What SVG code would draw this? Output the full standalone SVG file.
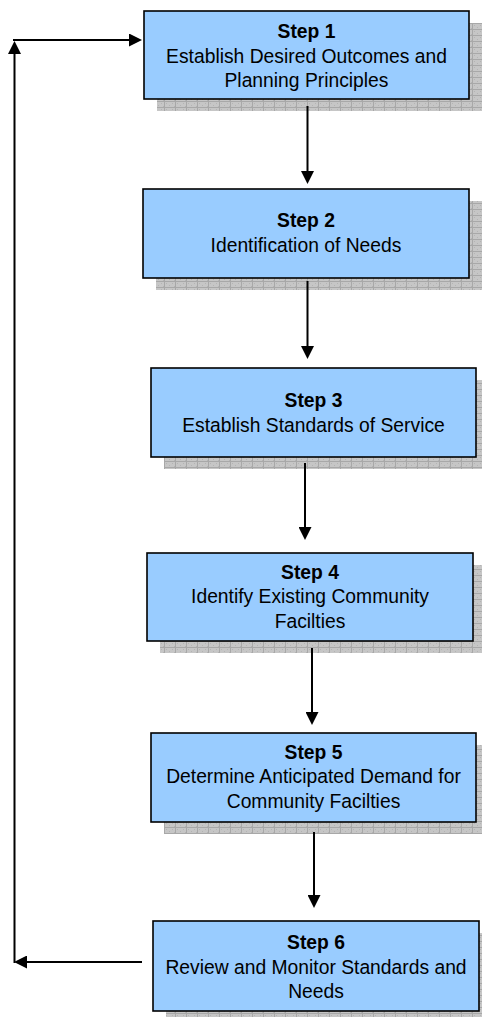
<svg xmlns="http://www.w3.org/2000/svg" width="482" height="1017" viewBox="0 0 482 1017">
<style>
.box{fill:#99ccff;stroke:#000;stroke-width:1.6}
.shadow{fill:url(#grid)}
.t{font-family:"Liberation Sans",Arial,sans-serif;font-size:19.3px;fill:#000;text-anchor:middle}
.b{font-weight:bold}
.c{fill:none;stroke:#000;stroke-width:2}
</style>
<defs>
<pattern id="grid" width="11" height="6" patternUnits="userSpaceOnUse">
<rect width="11" height="6" fill="#c6c6c6"/>
<rect x="1" y="1" width="1" height="1" fill="#b4b4b4"/>
<rect x="4" y="3" width="1" height="1" fill="#b4b4b4"/>
<rect x="7" y="1" width="1" height="1" fill="#b4b4b4"/>
<rect x="9" y="4" width="1" height="1" fill="#b4b4b4"/>
<rect x="0" y="5" width="11" height="1" fill="#a8a8a8"/>
<rect x="10" y="0" width="1" height="6" fill="#a8a8a8"/>
</pattern>
<marker id="ah" markerUnits="userSpaceOnUse" markerWidth="13" markerHeight="13" refX="9" refY="6.5" orient="auto">
<path d="M0,0 L13,6.5 L0,13 Z" fill="#000"/>
</marker>
</defs>

<g id="node1">
<rect class="shadow" x="157" y="23" width="325" height="88"/>
<rect class="box" x="144" y="11" width="325" height="88"/>
<text class="t b" x="306.5" y="38">Step 1</text>
<text class="t" x="306.5" y="62.5">Establish Desired Outcomes and</text>
<text class="t" x="306.5" y="87">Planning Principles</text>
</g>

<g id="node2">
<rect class="shadow" x="156" y="201" width="326" height="89"/>
<rect class="box" x="143" y="189" width="326" height="89"/>
<text class="t b" x="306" y="227">Step 2</text>
<text class="t" x="306" y="251.5">Identification of Needs</text>
</g>

<g id="node3">
<rect class="shadow" x="164" y="380" width="325" height="89"/>
<rect class="box" x="151" y="368" width="325" height="89"/>
<text class="t b" x="313.5" y="407">Step 3</text>
<text class="t" x="313.5" y="431.5">Establish Standards of Service</text>
</g>

<g id="node4">
<rect class="shadow" x="160" y="565" width="326" height="88"/>
<rect class="box" x="147" y="553" width="326" height="88"/>
<text class="t b" x="310" y="578.5">Step 4</text>
<text class="t" x="310" y="603">Identify Existing Community</text>
<text class="t" x="310" y="627.5">Facilties</text>
</g>

<g id="node5">
<rect class="shadow" x="164" y="745" width="325" height="89"/>
<rect class="box" x="151" y="733" width="325" height="89"/>
<text class="t b" x="313.5" y="758.5">Step 5</text>
<text class="t" x="313.5" y="783">Determine Anticipated Demand for</text>
<text class="t" x="313.5" y="807.5">Community Facilties</text>
</g>

<g id="node6">
<rect class="shadow" x="166" y="933" width="326" height="90"/>
<rect class="box" x="153" y="921" width="326" height="90"/>
<text class="t b" x="316" y="949">Step 6</text>
<text class="t" x="316" y="973.5">Review and Monitor Standards and</text>
<text class="t" x="316" y="998">Needs</text>
</g>

<g id="connectors">
<line class="c" x1="307.5" y1="106" x2="307.5" y2="180" marker-end="url(#ah)"/>
<line class="c" x1="307.5" y1="281" x2="307.5" y2="355" marker-end="url(#ah)"/>
<line class="c" x1="305" y1="463" x2="305" y2="536" marker-end="url(#ah)"/>
<line class="c" x1="312" y1="648" x2="312" y2="721" marker-end="url(#ah)"/>
<line class="c" x1="314" y1="832" x2="314" y2="904" marker-end="url(#ah)"/>
<line class="c" x1="142" y1="962" x2="18" y2="962" marker-end="url(#ah)"/>
<line class="c" x1="14.5" y1="963" x2="14.5" y2="45" marker-end="url(#ah)"/>
<line class="c" x1="13" y1="40" x2="138" y2="40" marker-end="url(#ah)"/>
</g>
</svg>
